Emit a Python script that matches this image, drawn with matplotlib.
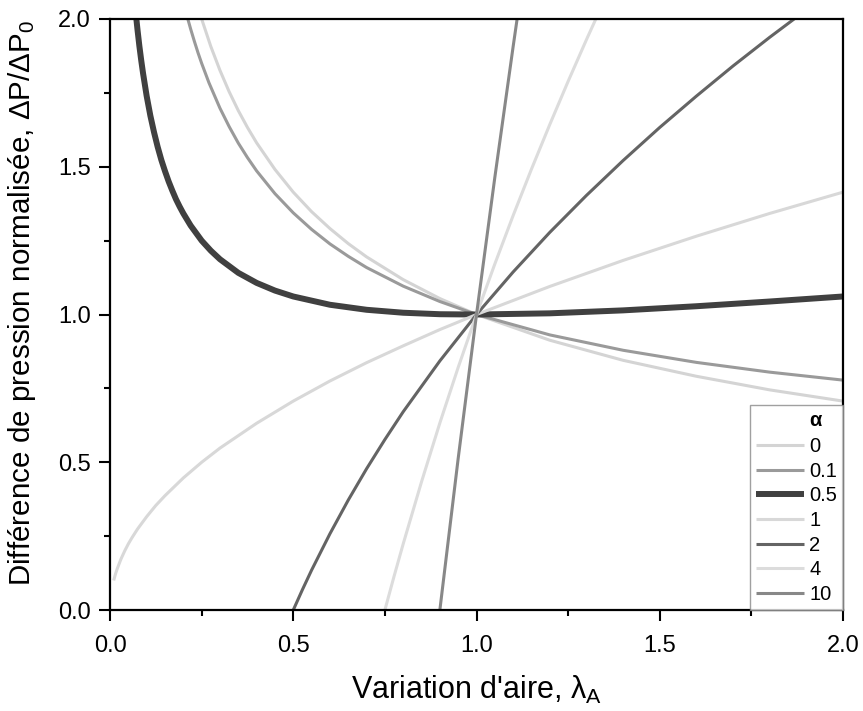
import matplotlib
matplotlib.use("Agg")
import matplotlib.pyplot as plt
from matplotlib.ticker import MultipleLocator

plt.rcParams['font.family'] = ['Liberation Sans', 'DejaVu Sans']
plt.rcParams['mathtext.fontset'] = 'custom'
plt.rcParams['mathtext.rm'] = 'Liberation Sans'
plt.rcParams['mathtext.it'] = 'Liberation Sans'

# Data: (lambda_A, dP/dP0) for each alpha
alphas = ["0", "0.1", "0.5", "1", "2", "4", "10"]

x_a0 = [0.25, 0.275, 0.3, 0.325, 0.35, 0.375, 0.4, 0.45, 0.5, 0.55, 0.6, 0.65, 0.7, 0.8, 0.9, 1.0, 1.2, 1.4, 1.6, 1.8, 2.0]
y_a0 = [2.0, 1.907, 1.826, 1.754, 1.690, 1.633, 1.581, 1.491, 1.414, 1.348, 1.291, 1.240, 1.195, 1.118, 1.054, 1.0, 0.913, 0.845, 0.791, 0.745, 0.707]

x_a01 = [0.21, 0.22, 0.23, 0.24, 0.25, 0.27, 0.3, 0.325, 0.35, 0.375, 0.4, 0.45, 0.5, 0.55, 0.6, 0.65, 0.7, 0.8, 0.9, 1.0, 1.2, 1.4, 1.6, 1.8, 2.0]
y_a01 = [2.010, 1.966, 1.925, 1.886, 1.85, 1.784, 1.698, 1.636, 1.580, 1.531, 1.486, 1.409, 1.344, 1.288, 1.239, 1.197, 1.159, 1.096, 1.044, 1.0, 0.931, 0.879, 0.838, 0.805, 0.778]

x_a05 = [0.07, 0.075, 0.08, 0.085, 0.09, 0.1, 0.11, 0.12, 0.13, 0.14, 0.15, 0.16, 0.17, 0.18, 0.19, 0.2, 0.22, 0.25, 0.275, 0.3, 0.35, 0.4, 0.45, 0.5, 0.6, 0.7, 0.8, 0.9, 1.0, 1.2, 1.4, 1.6, 1.8, 2.0]
y_a05 = [2.022, 1.963, 1.909, 1.861, 1.817, 1.739, 1.673, 1.617, 1.567, 1.523, 1.485, 1.45, 1.419, 1.390, 1.365, 1.342, 1.301, 1.25, 1.216, 1.187, 1.141, 1.107, 1.081, 1.061, 1.033, 1.016, 1.006, 1.001, 1.0, 1.004, 1.014, 1.028, 1.044, 1.061]

x_a1 = [0.01, 0.015, 0.02, 0.03, 0.04, 0.05, 0.06, 0.075, 0.1, 0.125, 0.15, 0.2, 0.25, 0.3, 0.4, 0.5, 0.6, 0.7, 0.8, 0.9, 1.0, 1.2, 1.4, 1.6, 1.8, 2.0]
y_a1 = [0.1, 0.1225, 0.141, 0.173, 0.2, 0.224, 0.245, 0.274, 0.316, 0.354, 0.387, 0.447, 0.5, 0.548, 0.632, 0.707, 0.775, 0.837, 0.894, 0.949, 1.0, 1.095, 1.183, 1.265, 1.342, 1.414]

x_a2 = [0.5, 0.525, 0.55, 0.6, 0.65, 0.7, 0.75, 0.8, 0.9, 1.0, 1.1, 1.2, 1.3, 1.4, 1.5, 1.6, 1.7, 1.8, 1.9]
y_a2 = [0.0, 0.069, 0.135, 0.258, 0.372, 0.478, 0.577, 0.671, 0.843, 1.0, 1.144, 1.278, 1.403, 1.521, 1.633, 1.739, 1.841, 1.938, 2.031]

x_a4 = [0.75, 0.775, 0.8, 0.85, 0.9, 0.95, 1.0, 1.05, 1.1, 1.15, 1.2, 1.25, 1.3, 1.33]
y_a4 = [0.0, 0.114, 0.224, 0.434, 0.633, 0.821, 1.0, 1.171, 1.335, 1.492, 1.643, 1.789, 1.930, 2.012]

x_a10 = [0.9, 0.95, 1.0, 1.05, 1.1, 1.12]
y_a10 = [0.0, 0.513, 1.0, 1.464, 1.907, 2.079]

xs = [x_a0, x_a01, x_a05, x_a1, x_a2, x_a4, x_a10]
ys = [y_a0, y_a01, y_a05, y_a1, y_a2, y_a4, y_a10]
colors = ["#d4d4d4", "#9a9a9a", "#404040", "#d8d8d8", "#646464", "#dcdcdc", "#888888"]
widths = [2.2, 2.2, 4.3, 2.2, 2.2, 2.2, 2.2]

fig = plt.figure(figsize=(8.63, 7.11), dpi=100)
ax = fig.add_axes([0.1275, 0.142, 0.8493, 0.8313])

for x, y, c, w, a in zip(xs, ys, colors, widths, alphas):
    ax.plot(x, y, color=c, lw=w, label=a, solid_capstyle='butt', solid_joinstyle='round')

ax.set_xlim(0, 2)
ax.set_ylim(0, 2)
ax.xaxis.set_major_locator(MultipleLocator(0.5))
ax.xaxis.set_minor_locator(MultipleLocator(0.25))
ax.yaxis.set_major_locator(MultipleLocator(0.5))
ax.yaxis.set_minor_locator(MultipleLocator(0.25))
ax.xaxis.set_major_formatter(plt.FormatStrFormatter('%.1f'))
ax.yaxis.set_major_formatter(plt.FormatStrFormatter('%.1f'))
ax.tick_params(which='major', direction='out', length=8, width=1.5, labelsize=17)
ax.tick_params(axis='x', which='major', pad=10)
ax.tick_params(axis='y', which='major', pad=6)
ax.tick_params(which='minor', direction='out', length=4, width=1.5)
ax.tick_params(top=False, right=False, which='both')
for s in ax.spines.values():
    s.set_linewidth(1.6)

ax.set_xlabel("Variation d'aire, λ$_\\mathregular{A}$", fontsize=22, labelpad=12)
ax.set_ylabel("Différence de pression normalisée, ΔP/ΔP$_\\mathregular{0}$", fontsize=21.3)
ax.yaxis.set_label_coords(-0.098, 0.52)

leg = ax.legend(loc='lower right', fontsize=14.5, frameon=True, fancybox=False,
                borderaxespad=0, handlelength=2.4, handletextpad=0.25, labelspacing=0.28,
                borderpad=0.3)
leg.get_frame().set_edgecolor('#888888')
leg.get_frame().set_linewidth(1.0)
# reserve a title row; the bold alpha is placed over the label column below
leg.set_title(" ", prop={'size': 14.5, 'weight': 'bold'})
leg._legend_box.sep = 5

fig.canvas.draw()
r = fig.canvas.get_renderer()
tb = leg.get_texts()[0].get_window_extent(r)
ttl = leg.get_title().get_window_extent(r)
title_y = (ttl.y0 + ttl.y1) / 2
fig.text(tb.x0 / fig.bbox.width, title_y / fig.bbox.height, "α", fontsize=14.5,
         fontweight='bold', ha='left', va='center')

fig.savefig("out.png", dpi=100)
